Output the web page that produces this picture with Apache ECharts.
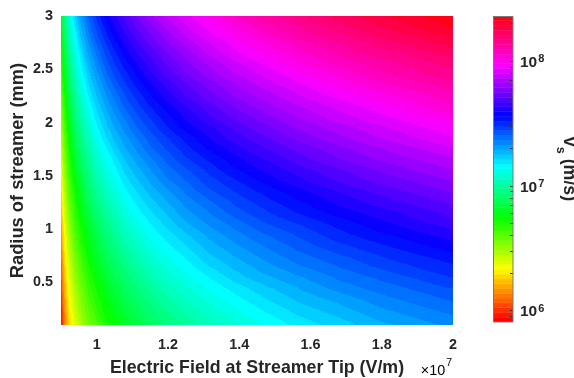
<!DOCTYPE html>
<html>
<head>
<meta charset="utf-8">
<script src="https://cdn.jsdelivr.net/npm/echarts@6.0.0/dist/echarts.min.js"></script>
<style>
html,body{margin:0;padding:0;background:#fff;}
#chart{width:574px;height:378px;}
</style>
</head>
<body>
<div id="chart"></div>
<script>
// Electric field sample positions (x1e7 V/m)
const E_NODES = [0.9015,0.9045,0.908,0.9125,0.9175,0.923,0.9295,0.937,0.9455,0.955,0.966,0.979,0.994,1.011,1.030,1.0525,1.080,1.1125,1.150,1.195,1.250,1.315,1.390,1.475,1.570,1.675,1.795,1.930];
// Streamer radius sample positions (mm)
const R_NODES = [0.15,0.25,0.35,0.45,0.55,0.65,0.75,0.85,0.95,1.05,1.15,1.25,1.35,1.45,1.55,1.65,1.75,1.85,1.95,2.05,2.15,2.25,2.35,2.45,2.55,2.65,2.75,2.85,2.95];
// log10 of streamer velocity v_s (m/s); one row per radius (bottom to top), one column per field value
const LOG_V = [
[5.96,6.03,6.09,6.16,6.22,6.28,6.33,6.38,6.43,6.48,6.53,6.58,6.62,6.67,6.72,6.76,6.81,6.86,6.90,6.95,7.00,7.05,7.10,7.15,7.20,7.24,7.29,7.33],
[5.98,6.05,6.12,6.18,6.25,6.30,6.36,6.41,6.46,6.51,6.56,6.60,6.65,6.70,6.74,6.79,6.84,6.88,6.93,6.98,7.03,7.08,7.13,7.18,7.23,7.27,7.32,7.36],
[6.01,6.08,6.14,6.21,6.27,6.33,6.38,6.43,6.48,6.53,6.58,6.63,6.68,6.72,6.77,6.82,6.86,6.91,6.96,7.01,7.06,7.11,7.16,7.21,7.26,7.30,7.35,7.39],
[6.04,6.11,6.17,6.24,6.30,6.35,6.41,6.46,6.51,6.56,6.61,6.66,6.70,6.75,6.80,6.84,6.89,6.94,6.99,7.04,7.09,7.14,7.19,7.24,7.29,7.34,7.38,7.42],
[6.07,6.13,6.20,6.26,6.32,6.38,6.43,6.49,6.54,6.59,6.63,6.68,6.73,6.78,6.83,6.87,6.92,6.97,7.02,7.07,7.12,7.17,7.23,7.28,7.32,7.37,7.41,7.46],
[6.09,6.16,6.22,6.29,6.35,6.40,6.46,6.51,6.56,6.61,6.66,6.71,6.76,6.81,6.85,6.90,6.95,7.00,7.05,7.10,7.15,7.21,7.26,7.31,7.36,7.40,7.45,7.49],
[6.12,6.19,6.25,6.32,6.38,6.43,6.49,6.54,6.59,6.64,6.69,6.74,6.79,6.84,6.88,6.93,6.98,7.03,7.08,7.13,7.18,7.24,7.29,7.34,7.39,7.43,7.48,7.52],
[6.15,6.22,6.28,6.34,6.40,6.46,6.51,6.57,6.62,6.67,6.72,6.77,6.81,6.86,6.91,6.96,7.01,7.06,7.11,7.16,7.21,7.27,7.32,7.37,7.42,7.47,7.51,7.56],
[6.18,6.24,6.30,6.37,6.43,6.48,6.54,6.59,6.64,6.69,6.74,6.79,6.84,6.89,6.94,6.99,7.04,7.09,7.14,7.19,7.24,7.30,7.35,7.40,7.45,7.50,7.55,7.59],
[6.21,6.27,6.33,6.40,6.46,6.51,6.57,6.62,6.67,6.72,6.77,6.82,6.87,6.92,6.97,7.01,7.07,7.12,7.17,7.22,7.28,7.33,7.38,7.44,7.48,7.53,7.58,7.63],
[6.24,6.30,6.36,6.43,6.48,6.54,6.59,6.65,6.70,6.75,6.80,6.85,6.90,6.95,7.00,7.04,7.10,7.15,7.20,7.25,7.31,7.36,7.42,7.47,7.52,7.57,7.61,7.66],
[6.27,6.33,6.39,6.45,6.51,6.57,6.62,6.67,6.73,6.78,6.83,6.88,6.93,6.98,7.02,7.07,7.13,7.18,7.23,7.28,7.34,7.39,7.45,7.50,7.55,7.60,7.65,7.69],
[6.29,6.36,6.42,6.48,6.54,6.59,6.65,6.70,6.75,6.80,6.85,6.91,6.96,7.01,7.05,7.10,7.16,7.21,7.26,7.31,7.37,7.43,7.48,7.53,7.58,7.63,7.68,7.73],
[6.33,6.39,6.45,6.51,6.57,6.62,6.68,6.73,6.78,6.83,6.88,6.94,6.99,7.04,7.08,7.13,7.19,7.24,7.29,7.35,7.40,7.46,7.51,7.57,7.62,7.67,7.72,7.76],
[6.36,6.42,6.47,6.54,6.60,6.65,6.71,6.76,6.81,6.86,6.91,6.96,7.02,7.07,7.11,7.16,7.22,7.27,7.32,7.38,7.43,7.49,7.55,7.60,7.65,7.70,7.75,7.80],
[6.39,6.45,6.50,6.57,6.62,6.68,6.73,6.79,6.84,6.89,6.94,6.99,7.05,7.10,7.14,7.19,7.25,7.30,7.35,7.41,7.47,7.52,7.58,7.63,7.69,7.74,7.79,7.83],
[6.42,6.48,6.53,6.60,6.65,6.71,6.76,6.82,6.87,6.92,6.97,7.02,7.07,7.13,7.17,7.23,7.28,7.33,7.39,7.44,7.50,7.56,7.61,7.67,7.72,7.77,7.82,7.87],
[6.45,6.51,6.56,6.63,6.68,6.74,6.79,6.85,6.90,6.95,7.00,7.05,7.11,7.16,7.21,7.26,7.31,7.36,7.42,7.47,7.53,7.59,7.65,7.70,7.76,7.81,7.86,7.91],
[6.48,6.54,6.59,6.65,6.71,6.77,6.82,6.88,6.93,6.98,7.03,7.08,7.14,7.19,7.24,7.29,7.34,7.40,7.45,7.51,7.57,7.62,7.68,7.74,7.79,7.84,7.89,7.94],
[6.51,6.57,6.62,6.68,6.74,6.80,6.85,6.91,6.96,7.01,7.06,7.11,7.17,7.22,7.27,7.32,7.37,7.43,7.48,7.54,7.60,7.66,7.72,7.77,7.83,7.88,7.93,7.98],
[6.54,6.60,6.65,6.71,6.77,6.83,6.88,6.93,6.99,7.04,7.09,7.14,7.20,7.25,7.30,7.35,7.41,7.46,7.52,7.57,7.63,7.69,7.75,7.81,7.86,7.91,7.96,8.02],
[6.57,6.63,6.68,6.74,6.80,6.86,6.91,6.97,7.02,7.07,7.12,7.18,7.23,7.28,7.33,7.38,7.44,7.49,7.55,7.61,7.67,7.73,7.79,7.84,7.90,7.95,8.00,8.05],
[6.60,6.66,6.72,6.78,6.83,6.89,6.94,7.00,7.05,7.10,7.15,7.21,7.26,7.31,7.36,7.42,7.47,7.53,7.58,7.64,7.70,7.76,7.82,7.88,7.93,7.99,8.04,8.09],
[6.64,6.69,6.75,6.81,6.86,6.92,6.97,7.03,7.08,7.13,7.18,7.24,7.29,7.34,7.40,7.45,7.50,7.56,7.62,7.68,7.74,7.80,7.86,7.91,7.97,8.02,8.08,8.13],
[6.67,6.72,6.78,6.84,6.89,6.95,7.00,7.06,7.11,7.16,7.22,7.27,7.32,7.38,7.43,7.48,7.54,7.59,7.65,7.71,7.77,7.83,7.89,7.95,8.01,8.06,8.11,8.16],
[6.70,6.75,6.81,6.87,6.92,6.98,7.03,7.09,7.14,7.19,7.25,7.30,7.35,7.41,7.46,7.51,7.57,7.63,7.68,7.74,7.80,7.87,7.93,7.99,8.04,8.10,8.15,8.20],
[6.73,6.79,6.84,6.90,6.96,7.01,7.06,7.12,7.17,7.23,7.28,7.33,7.39,7.44,7.49,7.55,7.60,7.66,7.72,7.78,7.84,7.90,7.96,8.02,8.08,8.13,8.19,8.24],
[6.77,6.82,6.87,6.93,6.99,7.04,7.10,7.15,7.20,7.26,7.31,7.37,7.42,7.47,7.53,7.58,7.64,7.70,7.75,7.81,7.88,7.94,8.00,8.06,8.12,8.17,8.23,8.28],
[6.80,6.85,6.90,6.96,7.02,7.07,7.13,7.18,7.24,7.29,7.34,7.40,7.45,7.51,7.56,7.61,7.67,7.73,7.79,7.85,7.91,7.97,8.04,8.10,8.15,8.21,8.26,8.32]
];
// axis ranges
const X_RANGE = [0.9, 2.0];
const Y_RANGE = [0.1, 3.0];
// colour scale limits (log10 m/s) and colorbar ticks
const CB_MIN = 5.904;
const CB_MAX = 8.361;
const CB_LEVELS = 64;
const CB_MAJOR = [1e6, 1e7, 1e8];
const CB_MINOR = [9e5,2e6,3e6,4e6,5e6,6e6,7e6,8e6,9e6,2e7,3e7,4e7,5e7,6e7,7e7,8e7,9e7,2e8];

const TXT = '#262626';
const FONT = 'Liberation Sans, Arial, Helvetica, sans-serif';

function hsvColor(h) {
  const h6 = h * 6, s = Math.floor(h6) % 6, f = h6 - Math.floor(h6);
  let r, g, b;
  switch (s) {
    case 0: r = 1; g = f; b = 0; break;
    case 1: r = 1 - f; g = 1; b = 0; break;
    case 2: r = 0; g = 1; b = f; break;
    case 3: r = 0; g = 1 - f; b = 1; break;
    case 4: r = f; g = 0; b = 1; break;
    default: r = 1; g = 0; b = 1 - f;
  }
  return 'rgb(' + Math.round(r * 255) + ',' + Math.round(g * 255) + ',' + Math.round(b * 255) + ')';
}
function levelIndex(lv) {
  return Math.max(0, Math.min(CB_LEVELS - 1, Math.floor((lv - CB_MIN) / (CB_MAX - CB_MIN) * CB_LEVELS)));
}
const bandColor = i => hsvColor(i / CB_LEVELS);

// patches between neighbouring samples (outer patches reach the axis limits)
const patches = [];
const nE = E_NODES.length, nR = R_NODES.length;
for (let k = 0; k < nR - 1; k++) {
  for (let j = 0; j < nE - 1; j++) {
    patches.push([
      E_NODES[j], E_NODES[j + 1], R_NODES[k], R_NODES[k + 1],
      LOG_V[k][j], LOG_V[k][j + 1], LOG_V[k + 1][j], LOG_V[k + 1][j + 1],
      j === 0 ? X_RANGE[0] : E_NODES[j], j === nE - 2 ? X_RANGE[1] : E_NODES[j + 1],
      k === 0 ? Y_RANGE[0] : R_NODES[k], k === nR - 2 ? Y_RANGE[1] : R_NODES[k + 1]
    ]);
  }
}

function renderPatch(params, api) {
  const v = i => api.value(i);
  const pA = api.coord([v(0), v(2)]), pB = api.coord([v(1), v(3)]);
  const vLB = v(4), vRB = v(5), vLT = v(6), vRT = v(7);
  const w = pB[0] - pA[0], h = pB[1] - pA[1];
  const gx = ((vRB - vLB) + (vRT - vLT)) / 2 / w;
  const gy = ((vLT - vLB) + (vRT - vRB)) / 2 / h;
  const cx = (pA[0] + pB[0]) / 2, cy = (pA[1] + pB[1]) / 2;
  const vc = (vLB + vRB + vLT + vRT) / 4;
  const q0 = api.coord([v(8), v(10)]), q1 = api.coord([v(9), v(11)]);
  const x0 = q0[0] - 0.4, x1 = q1[0] + 0.4, y0 = q1[1] - 0.4, y1 = q0[1] + 0.4;
  const f = (x, y) => vc + gx * (x - cx) + gy * (y - cy);
  const cs = [f(x0, y0), f(x1, y0), f(x0, y1), f(x1, y1)];
  const vmin = Math.min.apply(null, cs), vmax = Math.max.apply(null, cs);
  const g2 = gx * gx + gy * gy;
  let fill;
  if (vmax - vmin < 1e-9 || g2 === 0) {
    fill = bandColor(levelIndex(vc));
  } else {
    const i0 = levelIndex(vmin), i1 = levelIndex(vmax);
    const stops = [{offset: 0, color: bandColor(i0)}];
    for (let i = i0 + 1; i <= i1; i++) {
      const b = CB_MIN + (CB_MAX - CB_MIN) * i / CB_LEVELS;
      const o = Math.max(0, Math.min(1, (b - vmin) / (vmax - vmin)));
      stops.push({offset: o, color: bandColor(i - 1)}, {offset: o, color: bandColor(i)});
    }
    stops.push({offset: 1, color: bandColor(i1)});
    const ax = cx + gx * (vmin - vc) / g2, ay = cy + gy * (vmin - vc) / g2;
    const bx = cx + gx * (vmax - vc) / g2, by = cy + gy * (vmax - vc) / g2;
    fill = new echarts.graphic.LinearGradient(ax, ay, bx, by, stops, true);
  }
  return {type: 'rect', shape: {x: x0, y: y0, width: x1 - x0, height: y1 - y0}, style: {fill: fill}};
}

const cbBands = [];
for (let i = 0; i < CB_LEVELS; i++) {
  const lo = CB_MIN + (CB_MAX - CB_MIN) * i / CB_LEVELS;
  const hi = CB_MIN + (CB_MAX - CB_MIN) * (i + 1) / CB_LEVELS;
  cbBands.push([0, Math.pow(10, lo), Math.pow(10, hi), i]);
}
const cbTicks = CB_MAJOR.concat(CB_MINOR).map(t => [1, t]);

const chart = echarts.init(document.getElementById('chart'), null, {renderer: 'canvas'});
const isMult = (x, step) => Math.abs(x / step - Math.round(x / step)) < 1e-6;

chart.setOption({
  animation: false,
  backgroundColor: '#fff',
  textStyle: {fontFamily: FONT},
  grid: [
    {left: 61, top: 16, width: 392, height: 309, containLabel: false, outerBoundsMode: 'none'},
    {left: 493, top: 16, width: 20, height: 306, containLabel: false, outerBoundsMode: 'none'}
  ],
  xAxis: [
    {
      type: 'value', gridIndex: 0, min: X_RANGE[0], max: X_RANGE[1],
      axisLine: {show: false}, axisTick: {show: false}, splitLine: {show: false},
      axisLabel: {
        color: TXT, fontWeight: 'bold', fontSize: 14.4, fontFamily: FONT, margin: 13,
        formatter: x => isMult(x, 0.2) ? String(Math.round(x * 10) / 10) : ''
      },
      name: 'Electric Field at Streamer Tip (V/m)', nameLocation: 'middle', nameGap: 34,
      nameMoveOverlap: false,
      nameTextStyle: {color: TXT, fontWeight: 'bold', fontSize: 17.8, fontFamily: FONT}
    },
    {type: 'value', gridIndex: 1, min: 0, max: 1, show: false}
  ],
  yAxis: [
    {
      type: 'value', gridIndex: 0, min: Y_RANGE[0], max: Y_RANGE[1],
      axisLine: {show: false}, axisTick: {show: false}, splitLine: {show: false},
      axisLabel: {
        color: TXT, fontWeight: 'bold', fontSize: 14.4, fontFamily: FONT, margin: 8,
        formatter: y => isMult(y, 0.5) ? String(Math.round(y * 10) / 10) : ''
      },
      name: 'Radius of streamer (mm)', nameLocation: 'middle', nameGap: 34, nameRotate: 90,
      nameMoveOverlap: false,
      nameTextStyle: {color: TXT, fontWeight: 'bold', fontSize: 18.3, fontFamily: FONT}
    },
    {
      type: 'log', logBase: 10, gridIndex: 1, position: 'right',
      min: Math.pow(10, CB_MIN), max: Math.pow(10, CB_MAX),
      axisLine: {show: false}, axisTick: {show: false}, splitLine: {show: false},
      axisLabel: {
        margin: 7, color: TXT,
        formatter: t => {
          const e = Math.log10(t);
          if (Math.abs(e - Math.round(e)) > 1e-6) return '';
          return '{b|10}{e|' + Math.round(e) + '}';
        },
        rich: {
          b: {fontSize: 15.5, fontWeight: 'bold', color: TXT, fontFamily: FONT, verticalAlign: 'bottom', lineHeight: 20, padding: [6, 0, 0, 0]},
          e: {fontSize: 11, fontWeight: 'bold', color: TXT, fontFamily: FONT, verticalAlign: 'top', lineHeight: 20, padding: [3, 0, 0, 1]}
        }
      },
      name: '{v|v}{s|s}{u| (m/s)}', nameLocation: 'middle', nameGap: 41, nameRotate: -90,
      nameMoveOverlap: false,
      nameTextStyle: {
        color: TXT,
        rich: {
          v: {fontSize: 17.8, fontWeight: 'bold', color: TXT, fontFamily: FONT, verticalAlign: 'top', lineHeight: 24},
          s: {fontSize: 12.5, fontWeight: 'bold', color: TXT, fontFamily: FONT, verticalAlign: 'bottom', lineHeight: 24},
          u: {fontSize: 17.8, fontWeight: 'bold', color: TXT, fontFamily: FONT, verticalAlign: 'top', lineHeight: 24}
        }
      }
    }
  ],
  series: [
    {
      type: 'custom', xAxisIndex: 0, yAxisIndex: 0, clip: true, silent: true,
      data: patches, encode: {x: [8, 9], y: [10, 11]},
      renderItem: renderPatch
    },
    {
      type: 'custom', xAxisIndex: 1, yAxisIndex: 1, clip: true, silent: true,
      data: cbBands, encode: {x: 0, y: [1, 2]},
      renderItem: (params, api) => {
        const a = api.coord([0, api.value(1)]);
        const b = api.coord([1, api.value(2)]);
        const c = bandColor(api.value(3));
        return {type: 'rect', shape: {x: a[0], y: b[1], width: b[0] - a[0], height: a[1] - b[1]},
          style: {fill: c, stroke: c, lineWidth: 0.5}};
      }
    },
    {
      type: 'custom', xAxisIndex: 1, yAxisIndex: 1, silent: true, z: 5,
      data: cbTicks, encode: {x: 0, y: 1},
      renderItem: (params, api) => {
        const p = api.coord([api.value(0), api.value(1)]);
        const y = Math.round(p[1]) + 0.5;
        return {type: 'line', shape: {x1: p[0] - 3, y1: y, x2: p[0], y2: y},
          style: {stroke: '#333', lineWidth: 1}};
      }
    }
  ],
  graphic: [
    {type: 'rect', z: 100, silent: true,
      shape: {x: 493.5, y: 16.5, width: 19.5, height: 305.5},
      style: {fill: 'none', stroke: '#7a7a7a', lineWidth: 1}},
    {type: 'text', z: 100, silent: true,
      style: {
        x: 452, y: 368, align: 'right', verticalAlign: 'middle',
        text: '{t|×10}{e|7}',
        rich: {
          t: {fontSize: 14.4, color: TXT, fontFamily: FONT, verticalAlign: 'bottom', lineHeight: 20},
          e: {fontSize: 10.5, color: TXT, fontFamily: FONT, verticalAlign: 'top', lineHeight: 20, padding: [0, 0, 0, 1]}
        }
      }}
  ]
});
</script>
</body>
</html>
